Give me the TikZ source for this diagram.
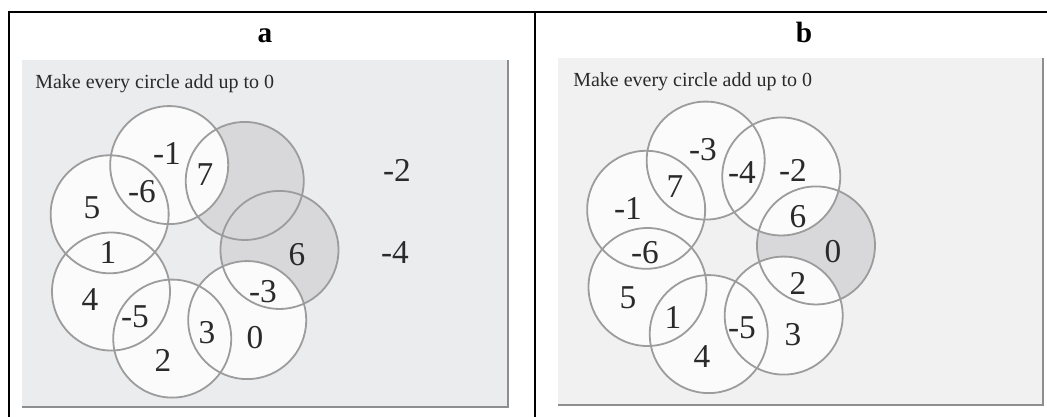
\documentclass[tikz,border=0pt]{standalone}
\usepackage{fontspec}
\setmainfont{Liberation Serif}
\usetikzlibrary{calc}
\definecolor{panelA}{HTML}{EBECEE}
\definecolor{panelB}{HTML}{F1F1F1}
\definecolor{edgegray}{HTML}{8E8E8E}
\definecolor{ringgray}{HTML}{9C9C9C}
\definecolor{grayfill}{HTML}{D8D8DA}
\definecolor{discfill}{HTML}{FBFBFB}
\definecolor{txt}{HTML}{2A2A2A}
\begin{document}
\begin{tikzpicture}[x=0.75pt,y=-0.75pt,
  frameline/.style={line width=1.5pt,black},
  paneledge/.style={draw=edgegray,line width=1.4pt},
  whitedisc/.style={fill=discfill},
  graydisc/.style={fill=grayfill},
  ringline/.style={draw=ringgray,line width=1.35pt},
  num/.style={font=\fontsize{25}{25}\selectfont,text=txt,inner sep=0pt},
  instr/.style={font=\fontsize{15}{15}\selectfont,text=txt,inner sep=0pt,anchor=base west},
  title/.style={font=\fontsize{22}{22}\selectfont\bfseries,text=black,inner sep=0pt,anchor=base}]
\useasboundingbox (0,0) rectangle (1047,417);
\fill[white] (0,0) rectangle (1047,417);
% table frame
\draw[frameline] (9,425) -- (9,12) -- (1055,12);
\draw[frameline] (535,12) -- (535,425);
\node[title] (ta) at (265,43) {a};
\node[title] (tb) at (804,43) {b};
% panels
\fill[panelA] (22,60) rectangle (508,407);
\draw[paneledge] (508,60) -- (508,407) -- (22,407);
\fill[panelB] (558,58) rectangle (1043,405);
\draw[paneledge] (1043,58) -- (1043,405) -- (558,405);
\node[instr] (ia) at (35,89) {Make every circle add up to 0};
\node[instr] (ib) at (573,87) {Make every circle add up to 0};
% ring centres
\coordinate (ca) at (190.5,251.5);
\coordinate (cb) at (727,247);
\foreach \i in {0,...,6}{
  \coordinate (a\i) at ($(ca)+({-(1+51.43*\i)}:89)$);
  \coordinate (b\i) at ($(cb)+({-(1+51.43*\i)}:89)$);
}
% panel a fills
\foreach \i in {0,1}{\fill[graydisc] (a\i) circle[radius=59];}
\foreach \i in {2,...,6}{\fill[whitedisc] (a\i) circle[radius=59];}
\foreach \i in {0,...,6}{\draw[ringline] (a\i) circle[radius=59];}
% panel b fills
\fill[graydisc] (b0) circle[radius=59];
\foreach \i in {1,...,6}{\fill[whitedisc] (b\i) circle[radius=59];}
\foreach \i in {0,...,6}{\draw[ringline] (b\i) circle[radius=59];}
% panel a numbers
\node[num] (an1) at (167,153) {-1};
\node[num] (an2) at (205,175) {7};
\node[num] (an3) at (142,192) {-6};
\node[num] (an4) at (92,208) {5};
\node[num] (an5) at (108,252) {1};
\node[num] (an6) at (90,300) {4};
\node[num] (an7) at (135,317) {-5};
\node[num] (an8) at (163,360) {2};
\node[num] (an9) at (207,333) {3};
\node[num] (an10) at (255,338) {0};
\node[num] (an11) at (263,292) {-3};
\node[num] (an12) at (297,255) {6};
\node[num] (an13) at (397,170) {-2};
\node[num] (an14) at (395,253) {-4};
% panel b numbers
\node[num] (bn1) at (703,150) {-3};
\node[num] (bn2) at (742,173) {-4};
\node[num] (bn3) at (793,170) {-2};
\node[num] (bn4) at (675,187) {7};
\node[num] (bn5) at (628,208) {-1};
\node[num] (bn6) at (645,253) {-6};
\node[num] (bn7) at (628,298) {5};
\node[num] (bn8) at (673,317) {1};
\node[num] (bn9) at (702,357) {4};
\node[num] (bn10) at (742,328) {-5};
\node[num] (bn11) at (793,335) {3};
\node[num] (bn12) at (798,283) {2};
\node[num] (bn13) at (833,252) {0};
\node[num] (bn14) at (798,217) {6};
\end{tikzpicture}
\end{document}
